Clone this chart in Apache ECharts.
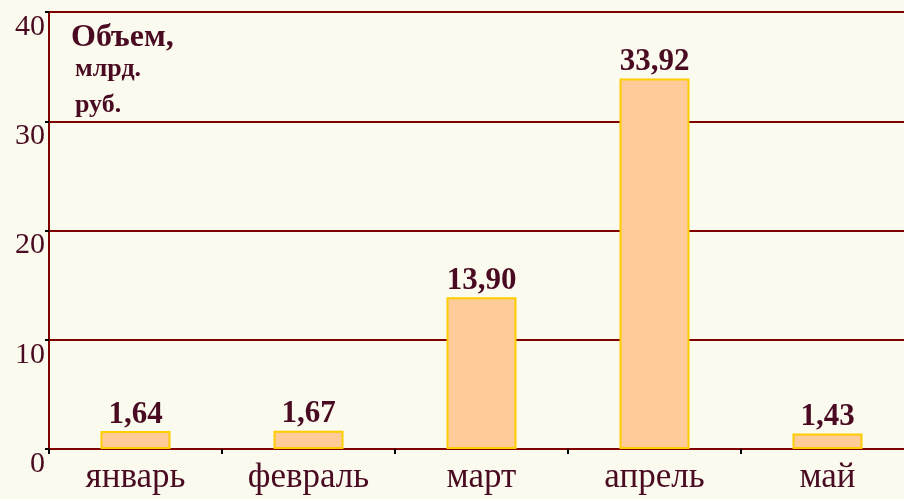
<!DOCTYPE html>
<html>
<head>
<meta charset="utf-8">
<script src="https://cdn.jsdelivr.net/npm/echarts@6/dist/echarts.min.js"></script>
<style>
  html, body { margin: 0; padding: 0; background: #FAFAEE; }
  #charts { width: 904px; height: 499px; }
</style>
</head>
<body>
<div id="charts"></div>
<script>
var months = ["январь", "февраль", "март", "апрель", "май"];
var volume = [1.64, 1.67, 13.90, 33.92, 1.43];
var yTicks = [0, 10, 20, 30, 40];

var textColor = "#4A0B22";
var lineColor = "#800000";

var charts = echarts.init(document.getElementById('charts'));

var option = {
    backgroundColor: "#FAFAEE",
    animation: false,
    grid: {
        top: 12,
        left: 49,
        width: 865,
        bottom: 50,
        outerBoundsMode: "none",
    },
    graphic: [
        {
            type: "text",
            left: 71,
            top: 22,
            style: {
                text: "Объем,",
                fontFamily: "Liberation Serif",
                fontWeight: "bold",
                fontSize: 32,
                fill: textColor,
            },
        },
        {
            type: "text",
            left: 75,
            top: 51,
            style: {
                text: "млрд.\nруб.",
                fontFamily: "Liberation Serif",
                fontWeight: "bold",
                fontSize: 26,
                lineHeight: 36,
                fill: textColor,
            },
        },
    ],
    xAxis: {
        type: "category",
        data: months,
        axisLine: {
            lineStyle: { color: lineColor, width: 2 },
        },
        axisTick: {
            show: true,
            length: 5,
            lineStyle: { color: "#000000", width: 2 },
        },
        axisLabel: {
            color: textColor,
            fontFamily: "Liberation Serif",
            fontSize: 35,
            margin: 11,
        },
    },
    yAxis: {
        type: "value",
        min: yTicks[0],
        max: yTicks[yTicks.length - 1],
        interval: 10,
        axisLine: {
            show: true,
            lineStyle: { color: lineColor, width: 2 },
        },
        axisTick: {
            show: true,
            length: 4,
            lineStyle: { color: "#000000", width: 2 },
        },
        splitLine: {
            show: true,
            lineStyle: { color: lineColor, width: 2 },
        },
        axisLabel: {
            color: textColor,
            fontFamily: "Liberation Serif",
            fontSize: 30,
            margin: 4,
            verticalAlign: "top",
        },
    },
    series: [
        {
            type: "bar",
            data: volume,
            barWidth: 70,
            itemStyle: {
                color: "#FFCC99",
                borderColor: "#FFCC00",
                borderWidth: 2,
            },
            label: {
                show: true,
                position: "top",
                distance: 1,
                color: textColor,
                fontFamily: "Liberation Serif",
                fontWeight: "bold",
                fontSize: 31,
                formatter: function (p) {
                    return p.value.toFixed(2).replace(".", ",");
                },
            },
        },
    ],
};

charts.setOption(option);
</script>
</body>
</html>
